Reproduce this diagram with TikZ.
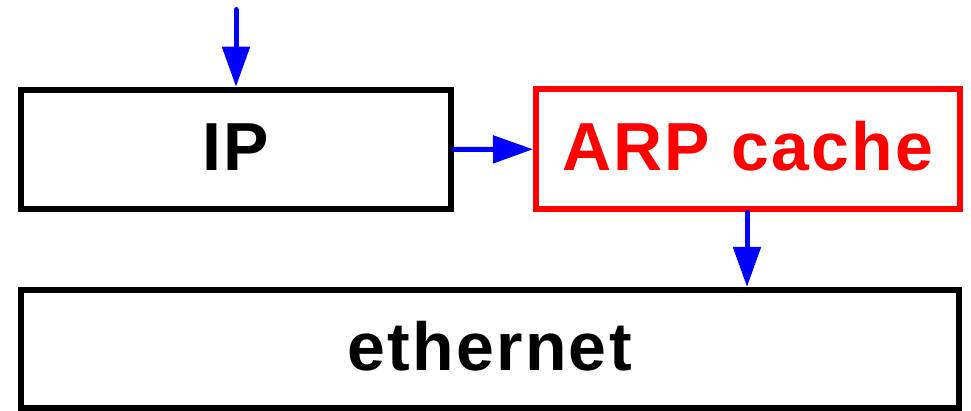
\documentclass[tikz,border=0pt]{standalone}
\usepackage{fontspec}
\setmainfont{Liberation Sans}
\newfontfamily\boxfont[LetterSpace=3.3]{Liberation Sans}
\usetikzlibrary{arrows.meta}
\definecolor{flowblue}{RGB}{0,0,255}
\definecolor{cachered}{RGB}{255,0,0}
\begin{document}
\begin{tikzpicture}[x=1pt,y=-1pt,
  layerbox/.style={draw=black, line width=6pt, fill=white, rectangle,
    inner sep=0pt, text height=42pt, text depth=0pt,
    font=\boxfont\fontsize{68}{80}\selectfont\bfseries},
  flow/.style={draw=flowblue, line width=5pt, line cap=round,
    -{Triangle[length=40pt,width=27pt]}}]
  \useasboundingbox (0,0) rectangle (971,411);
  \node[layerbox, minimum width=430pt, minimum height=119.5pt] (ip) at (236,149.5) {IP};
  \node[layerbox, draw=cachered, text=cachered, minimum width=423.5pt, minimum height=120.5pt] (arp) at (747.75,149.25) {ARP cache};
  \node[layerbox, minimum width=937.5pt, minimum height=118pt] (eth) at (489.75,349) {ethernet};
  \coordinate (in) at (236,9.5);
  \draw[flow] (in) -- (ip.north);
  \draw[flow] (ip.east) -- (arp.west);
  \draw[flow] (arp.south -| 747,0) -- (eth.north -| 747,0);
\end{tikzpicture}
\end{document}
